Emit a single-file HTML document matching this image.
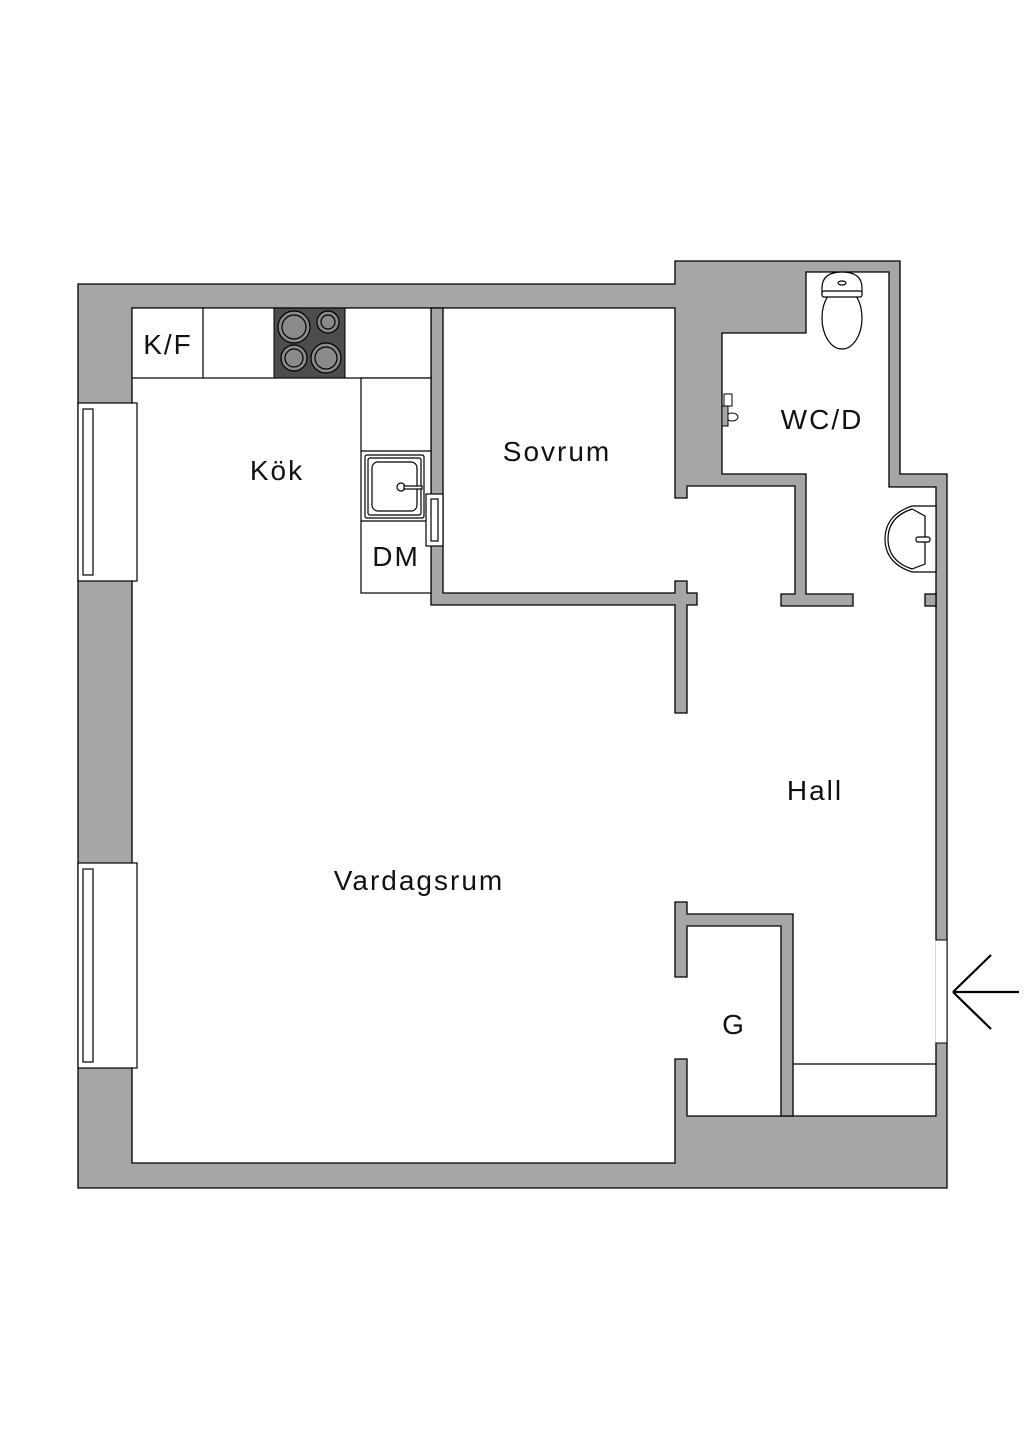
<!DOCTYPE html>
<html><head><meta charset="utf-8"><style>
html,body{margin:0;padding:0;background:#fff}
svg{display:block}
text{font-family:"Liberation Sans",sans-serif;fill:#111}
</style></head><body>
<svg width="1024" height="1448" viewBox="0 0 1024 1448" xmlns="http://www.w3.org/2000/svg">
<g stroke="#000" stroke-width="1.3">
<polygon fill="#a6a6a6" points="78,284 675,284 675,261 900,261 900,474 947,474 947,1188 78,1188"/>
<polygon fill="#fff" points="132,308 675,308 675,498 687,498 687,486 795,486 795,594 781,594 781,606 853,606 853,594 806,594 806,474 722,474 722,333 806,333 806,272 889,272 889,487 936,487 936,1116 687,1116 687,1059 675,1059 675,1163 132,1163"/>
<polygon fill="#a6a6a6" points="431,308 443,308 443,593 675,593 675,581 687,581 687,593 697,593 697,605 687,605 687,713 675,713 675,605 431,605"/>
<rect x="925" y="594" width="11" height="12" fill="#a6a6a6"/>
<polygon fill="#a6a6a6" points="675,902 687,902 687,914 793,914 793,1116 781,1116 781,926 687,926 687,977 675,977"/>
<line x1="793" y1="1064" x2="936" y2="1064"/>
</g>
<rect x="935.5" y="940" width="12" height="103" fill="#fff"/>
<line x1="947" y1="940" x2="947" y2="1043" stroke="#000" stroke-width="1"/>
<line x1="935.5" y1="940" x2="947" y2="940" stroke="#000" stroke-width="1"/>
<line x1="935.5" y1="1043" x2="947" y2="1043" stroke="#000" stroke-width="1"/>
<g stroke="#000" stroke-width="2.2" fill="none">
<line x1="953" y1="992" x2="1019" y2="992"/>
<line x1="953" y1="992" x2="991" y2="955"/>
<line x1="953" y1="992" x2="991" y2="1029"/>
</g>
<g stroke="#000" stroke-width="1.2" fill="#fff">
<rect x="78" y="403" width="59" height="178"/>
<rect x="83" y="409" width="10" height="166"/>
<rect x="78" y="863" width="59" height="205"/>
<rect x="83" y="869" width="10" height="193"/>
</g>
<g stroke="#000" stroke-width="1.2" fill="#fff">
<rect x="132" y="308" width="299" height="70"/>
<line x1="203" y1="308" x2="203" y2="378"/>
<rect x="361" y="378" width="70" height="215"/>
<line x1="361" y1="521" x2="431" y2="521"/>
<line x1="361" y1="451" x2="431" y2="451"/>
</g>
<rect x="274" y="308" width="71" height="70" fill="#4d4d4d" stroke="#000"/>
<g stroke="#000" stroke-width="1.2" fill="#8a8a8a">
<circle cx="294" cy="327" r="16"/><circle cx="294" cy="327" r="12"/>
<circle cx="328" cy="322" r="11"/><circle cx="328" cy="322" r="7"/>
<circle cx="294" cy="358" r="13"/><circle cx="294" cy="358" r="9"/>
<circle cx="326" cy="358" r="15"/><circle cx="326" cy="358" r="11"/>
</g>
<g stroke="#000" stroke-width="1.2" fill="#fff">
<rect x="365" y="455" width="59" height="63" rx="2"/>
<rect x="368" y="458" width="53" height="57" rx="2"/>
<rect x="372" y="462" width="45" height="49" rx="6"/>
<circle cx="401" cy="487" r="4"/>
<rect x="404" y="486" width="18" height="3"/>
<rect x="426" y="494" width="17" height="52"/>
<rect x="431" y="499" width="7" height="42"/>
</g>
<g stroke="#000" stroke-width="1.2" fill="#fff">
<ellipse cx="842" cy="318" rx="20" ry="31"/>
<path d="M822,288 Q822,272 842,272 Q862,272 862,288 L862,294 L822,294 Z"/>
<rect x="822" y="291" width="40" height="6" rx="2"/>
<ellipse cx="842" cy="283" rx="4" ry="2"/>
</g>
<g stroke="#000" stroke-width="1" fill="#fff">
<rect x="724" y="394" width="8" height="12"/>
<ellipse cx="732" cy="417" rx="6" ry="4"/>
<rect x="722" y="406" width="6" height="20" fill="#a6a6a6"/>
</g>
<g stroke="#000" stroke-width="1.2" fill="#fff">
<path d="M936,506 L912,506 Q885,515 885,539 Q885,563 912,572 L936,572 Z"/>
<path d="M912,509 L925,516 L925,564 L912,569 Q888,561 888,539 Q888,517 912,509 Z"/>
<rect x="916" y="537" width="14" height="5" rx="2"/>
</g>
<g font-size="28" letter-spacing="2">
<text x="168" y="354" text-anchor="middle">K/F</text>
<text x="277" y="480" text-anchor="middle">Kök</text>
<text x="557" y="461" text-anchor="middle">Sovrum</text>
<text x="822" y="429" text-anchor="middle">WC/D</text>
<text x="396" y="566" text-anchor="middle">DM</text>
<text x="815" y="800" text-anchor="middle">Hall</text>
<text x="419" y="890" text-anchor="middle">Vardagsrum</text>
<text x="734" y="1034" text-anchor="middle">G</text>
</g>
</svg>
</body></html>
